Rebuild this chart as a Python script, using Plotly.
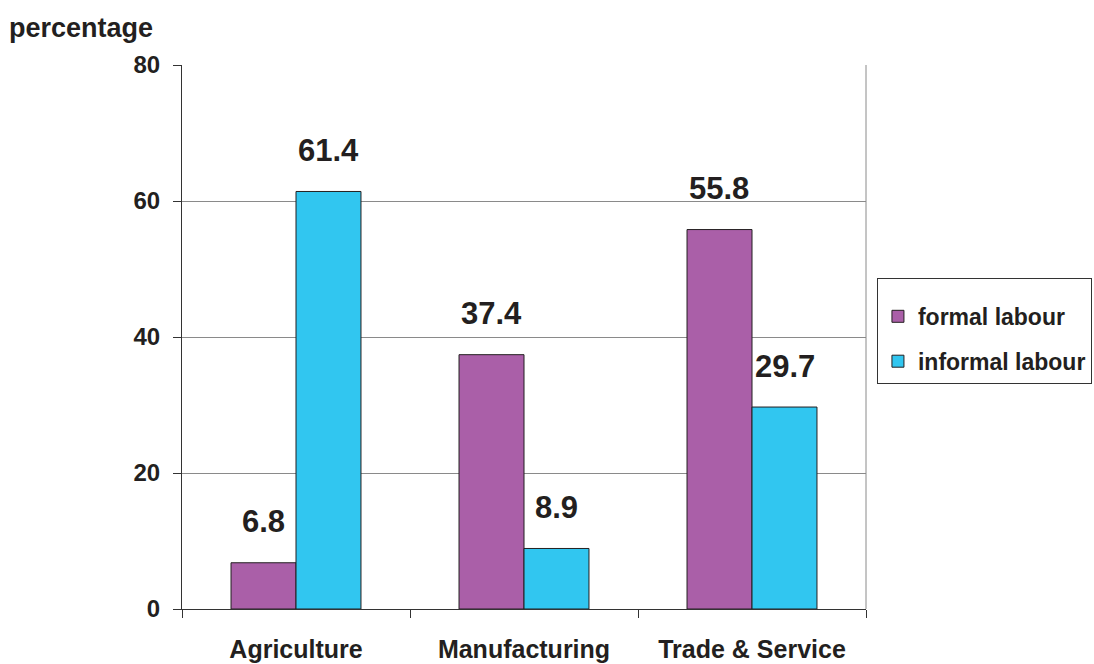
import plotly.graph_objects as go

# Employment share by sector, formal vs informal labour
sectors = ["Agriculture", "Manufacturing", "Trade & Service"]
formal_labour = [6.8, 37.4, 55.8]
informal_labour = [61.4, 8.9, 29.7]
series_names = ["formal labour", "informal labour"]
y_ticks = [0, 20, 40, 60, 80]

FORMAL_COLOR = "#AA5FA8"
INFORMAL_COLOR = "#31C6F0"
OUTLINE = "#231F20"
TEXT = "#231F20"
GRID = "#8A8A8A"

fig = go.Figure()
for i, (name, vals, color) in enumerate([
    (series_names[0], formal_labour, FORMAL_COLOR),
    (series_names[1], informal_labour, INFORMAL_COLOR),
]):
    fig.add_trace(go.Bar(
        name=name, x=sectors, y=vals, legendgroup=f"g{i}",
        marker=dict(color=color, line=dict(color=OUTLINE, width=1)),
    ))

# value labels above each bar
bar_shift = 32.7  # px from category centre to each bar centre
for vals, dx in [(formal_labour, -bar_shift), (informal_labour, bar_shift)]:
    for s, v in zip(sectors, vals):
        fig.add_annotation(
            x=s, y=v, text=f"{v:.1f}", showarrow=False,
            xshift=dx, yshift=41, yanchor="middle",
            font=dict(family="Liberation Sans, Arial", size=31, color=TEXT, weight="bold"),
        )

# axis title
fig.add_annotation(
    xref="paper", yref="paper", x=-0.256, y=1.068, xanchor="left", yanchor="middle",
    text="percentage", showarrow=False,
    font=dict(family="Liberation Sans, Arial", size=27, color=TEXT, weight="bold"),
)

# right border of plot frame
fig.add_shape(type="line", xref="paper", yref="paper", x0=1, x1=1, y0=0, y1=1,
              line=dict(color=GRID, width=1))

fig.update_layout(
    width=1094, height=664,
    margin=dict(l=182, r=228, t=65, b=55, autoexpand=False),
    paper_bgcolor="white", plot_bgcolor="white",
    barmode="group", bargap=0.43, bargroupgap=0,
    font=dict(family="Liberation Sans, Arial", color=TEXT),
    legend=dict(
        x=1.016, y=0.608, xanchor="left", yanchor="top",
        bordercolor="#333333", borderwidth=1, bgcolor="white",
        font=dict(family="Liberation Sans, Arial", size=23, color=TEXT, weight="bold"),
        itemwidth=30, tracegroupgap=12, traceorder="grouped",
        title=dict(text=" ", font=dict(size=12)),
    ),
    showlegend=True,
)
fig.update_xaxes(
    type="category", tickson="boundaries", ticks="outside", ticklen=8,
    tickcolor="#333333", showline=True, linecolor="#333333", linewidth=1,
    showgrid=False, tickfont=dict(size=25, color=TEXT, weight="bold"),
    ticklabelstandoff=18,
)
fig.update_yaxes(
    range=[0, 80], tickvals=y_ticks, ticks="outside", ticklen=8,
    tickcolor="#333333", showline=True, linecolor="#333333", linewidth=1,
    showgrid=True, gridcolor=GRID, gridwidth=1, zeroline=False,
    tickfont=dict(size=24, color=TEXT, weight="bold"),
    ticklabelstandoff=8,
)

fig.write_html("out.html")
